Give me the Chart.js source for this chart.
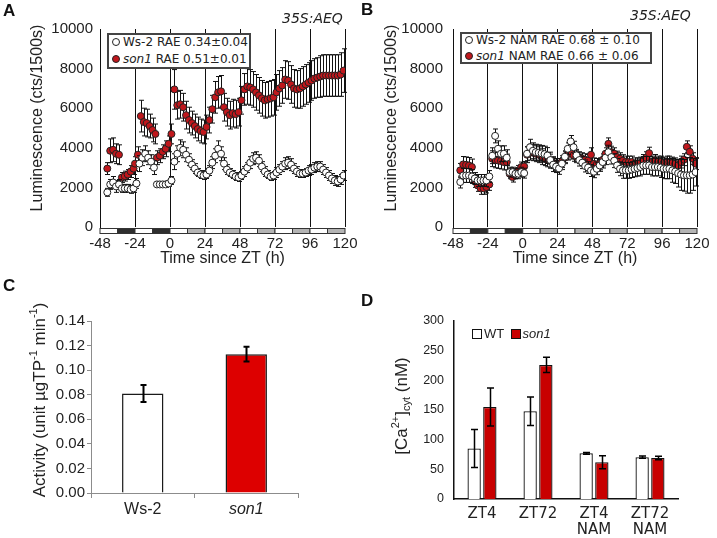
<!DOCTYPE html>
<html><head><meta charset="utf-8">
<script src="https://cdn.jsdelivr.net/npm/chart.js@4.4.0/dist/chart.umd.min.js"></script>
<style>
html,body{margin:0;padding:0;background:#fff;}
body{width:717px;height:538px;position:relative;overflow:hidden;font-family:"Liberation Sans",Arial,sans-serif;color:#222;}
canvas{position:absolute;}
.pl{position:absolute;font-weight:bold;font-size:17px;line-height:17px;color:#111;font-family:"Liberation Sans",Arial,sans-serif;}
.tag{position:absolute;font-style:italic;font-size:14px;line-height:16px;font-family:"DejaVu Sans",sans-serif;color:#222;white-space:nowrap;}
.leg{position:absolute;border:2px solid #444;background:#fff;font-family:"DejaVu Sans",sans-serif;font-size:12px;color:#222;box-sizing:border-box;}
.lr{position:absolute;left:3px;line-height:14px;white-space:nowrap;}
.dot{display:inline-block;width:6px;height:6px;border:1px solid #222;border-radius:50%;margin-right:3px;vertical-align:middle;position:relative;top:-1px;}
.dleg{position:absolute;font-family:"Liberation Sans",Arial,sans-serif;font-size:13px;line-height:14px;white-space:nowrap;color:#222;}
.sq{display:inline-block;width:8px;height:8px;border:1px solid #111;vertical-align:middle;position:relative;top:-1px;margin-right:2px;}
</style>
</head><body>
<canvas id="cA" width="358" height="268" style="left:0;top:0"></canvas>
<canvas id="cB" width="359" height="268" style="left:358px;top:0"></canvas>
<canvas id="cC" width="358" height="268" style="left:0;top:270px"></canvas>
<canvas id="cD" width="359" height="268" style="left:358px;top:270px"></canvas>

<div class="pl" style="left:3px;top:2px">A</div>
<div class="pl" style="left:361px;top:1px">B</div>
<div class="pl" style="left:3px;top:277px">C</div>
<div class="pl" style="left:361px;top:292px">D</div>
<div class="tag" style="left:282px;top:10px">35S:AEQ</div>
<div class="tag" style="left:630px;top:7px">35S:AEQ</div>

<div class="leg" style="left:107px;top:33px;width:144px;height:36px;">
  <div class="lr" style="top:0px;"><span class="dot" style="background:#fff"></span>Ws-2 RAE 0.34±0.04</div>
  <div class="lr" style="top:17px;"><span class="dot" style="background:#c0171c"></span><i>son1</i> RAE 0.51±0.01</div>
</div>
<div class="leg" style="left:460px;top:32px;width:192px;height:32px;">
  <div class="lr" style="top:-1px;"><span class="dot" style="background:#fff"></span>Ws-2 NAM RAE 0.68 ± 0.10</div>
  <div class="lr" style="top:15px;"><span class="dot" style="background:#c0171c"></span><i>son1</i> NAM RAE 0.66 ± 0.06</div>
</div>
<div class="dleg" style="left:472px;top:327px;"><span class="sq" style="background:#fff"></span>WT <span class="sq" style="background:#c80000;margin-left:3px"></span><i>son1</i></div>

<script>
// ---------- Panel A data (35S:AEQ, luminescence) ----------
const hoursA_ws = [-43,-41,-39,-37,-35,-33,-31,-29,-27,-25,-23,-21,-19,-17,-15,-13,-11,-9,-7,-5,-3,-1,1,3,5,7,9,11,13,15,17,19,21,23,25,27,29,31,33,35,37,39,41,43,45,47,49,51,53,55,57,59,61,63,65,67,69,71,73,75,77,79,81,83,85,87,89,91,93,95,97,99,101,103,105,107,109,111,113,115,117,119];
const lumA_ws = [1750,2150,2250,2050,2150,1950,1950,1950,1900,1950,
 2200,3200,3500,3700,3500,3300,3000,2150,2150,2150,
 2150,2200,2350,3300,3700,4000,3900,3650,3400,3150,
 2950,2750,2650,2600,2650,2850,3250,3600,3950,3700,
 3200,2900,2750,2650,2550,2500,2600,2800,3000,3250,
 3450,3500,3350,3050,2800,2650,2550,2600,2750,2900,
 3050,3200,3250,3150,2950,2800,2700,2700,2750,2850,
 2900,3000,3050,3050,2900,2750,2600,2450,2350,2300,
 2400,2600];
const errA_ws = [200,250,300,300,250,200,200,200,200,200,
 250,400,400,400,350,350,350,150,150,150,
 150,150,200,400,400,400,400,350,300,250,
 250,200,200,200,200,250,300,350,400,350,
 300,250,200,200,200,200,200,250,250,300,
 300,300,300,250,250,200,200,200,250,250,
 250,300,300,300,250,250,200,200,200,250,
 250,250,250,250,250,250,250,250,250,250,
 250,250];
const hoursA_son = [-43,-41,-39,-37,-35,-33,-31,-29,-27,-25,-24,-22,-20,-18,-16,-14,-12,-10,-9,-7,-5,-3,-1,1,3,5,7,9,11,13,15,17,19,21,23,25,27,29,31,33,35,37,39,41,43,45,47,49,51,53,55,57,59,61,63,65,67,69,71,73,75,77,79,81,83,85,87,89,91,93,95,97,99,101,103,105,107,109,111,113,115,117,119];
const lumA_son = [2950,3850,3900,3700,3650,2500,2570,2650,2800,2950,
 3200,3650,5600,5300,5250,5100,4900,4700,
 3500,3600,3800,3950,4200,
 4700,6950,6150,6200,6050,5650,5400,5250,5100,4950,
 4850,4800,5050,5400,5950,6550,6800,6850,6050,5800,
 5650,5750,5700,5800,6400,6950,7100,7050,6950,6800,
 6650,6500,6400,6450,6500,6550,6800,7000,7150,7450,
 7400,7200,7000,6950,7000,7100,7200,7300,7400,7500,
 7550,7600,7650,7650,7650,7650,7650,7650,7700,7900];
const errA_son = [300,600,600,500,500,250,250,250,300,300,
 350,400,800,700,700,600,600,500,
 350,350,350,400,400,
 500,1000,700,700,700,700,650,600,600,600,
 600,600,600,650,700,800,800,800,700,700,
 700,700,700,700,700,800,900,900,900,900,
 900,900,900,900,900,900,900,900,900,950,
 950,950,950,950,1000,1000,1000,1000,1000,1000,
 1000,1050,1050,1050,1050,1050,1050,1050,1100,1100];

// ---------- Panel B data (NAM) ----------
const hoursB = [-43,-41,-39,-37,-35,-33,-31,-29,-27,-25,-23,-21,-19,-17,-15,-13,-11,-9,-7,-5,-3,-1,1,3,5,7,9,11,13,15,17,19,21,23,25,27,29,31,33,35,37,39,41,43,45,47,49,51,53,55,57,59,61,63,65,67,69,71,73,75,77,79,81,83,85,87,89,91,93,95,97,99,101,103,105,107,109,111,113,115,117,119];
const lumB_ws = [2270,2600,2600,2600,2550,2450,2350,2350,2350,2350,
 2550,3600,4600,3950,3700,3700,3500,2770,2770,2690,
 2690,2770,2720,3700,4030,3850,3780,3750,3720,3680,
 3610,3380,3150,3050,2960,3200,3550,3950,4320,4030,
 3620,3380,3250,3080,3000,2850,2790,2940,3110,3280,
 3500,3780,3530,3350,3110,2940,2860,2860,2860,2900,
 2940,2980,3030,3110,3110,3110,3030,3030,3030,3000,
 2940,2940,2940,2860,2800,2720,2650,2610,2610,2610,
 2650,2770];
const errB_ws = [300,350,350,350,350,300,300,300,300,300,
 300,400,350,400,400,400,400,250,250,250,
 250,250,250,350,400,400,400,400,400,400,
 400,400,350,300,300,300,300,300,300,300,
 300,300,300,300,300,300,300,300,300,300,
 350,350,350,350,350,350,400,400,400,400,
 400,400,450,450,450,450,450,450,450,500,
 500,500,500,600,600,700,800,800,900,900,
 800,700];
const lumB_son = [2860,3160,3140,3110,3030,2300,2100,1950,1950,2020,
 2150,3450,3390,3360,3330,3280,3280,2690,2520,2690,
 2860,3030,3060,3650,3780,3750,3700,3650,3550,3450,
 3390,3330,3250,3160,3160,3300,3500,3680,3730,3620,
 3550,3500,3450,3400,3360,3650,3190,3160,3190,3390,
 3700,4200,3780,3700,3530,3450,3350,3280,3280,3280,
 3190,3190,3230,3360,3500,3730,3280,3360,3280,3280,
 3230,3280,3280,3230,3190,3110,3280,3400,4050,3800,
 3450,3200];
const errB_son = [350,400,400,400,400,300,300,300,300,300,
 300,400,400,400,400,400,400,250,250,250,
 250,250,250,400,400,400,400,400,400,350,
 350,350,300,300,300,300,300,300,300,300,
 300,300,300,300,300,350,300,300,300,300,
 300,300,300,300,300,300,300,300,300,300,
 300,300,300,300,300,300,300,300,300,300,
 300,300,300,300,300,300,300,300,300,300,
 300,300];

// light regime bar (12 h segments from -48): w = light, d = dark, g = subjective night
const photoperiod = ['w','d','w','d','w','g','w','g','w','g','w','g','w','g'];

// ---------- Panel C data ----------
const catC = ['Ws-2','son1'];
const actC = [0.081, 0.113];
const errC = [0.007, 0.006];

// ---------- Panel D data ----------
const catD = [['ZT4'],['ZT72'],['ZT4','NAM'],['ZT72','NAM']];
const caWT = [85, 148, 77, 70.5];
const caWTerr = [32, 24, 1.5, 2];
const caSon = [155, 226, 62, 69];
const caSonErr = [32, 13, 11, 3];

// ---------- plugins ----------
function drawErr(chart, idx) {
  const ds = chart.data.datasets[idx];
  const meta = chart.getDatasetMeta(idx);
  const ys = chart.scales.y, ctx = chart.ctx;
  ctx.save();
  ctx.strokeStyle = ds.errColor || '#000';
  ctx.lineWidth = ds.errWidth || 1;
  const cap = ds.errCap || 2.5;
  meta.data.forEach((el, i) => {
    const v = ds.data[i];
    const val = (typeof v === 'object') ? v.y : v;
    const e = ds.errors[i];
    const x = Math.round(el.x) + 0.5;
    const yt = ys.getPixelForValue(val + e), yb = ys.getPixelForValue(val - e);
    ctx.beginPath();
    ctx.moveTo(x, yt); ctx.lineTo(x, yb);
    ctx.moveTo(x - cap, yt); ctx.lineTo(x + cap, yt);
    ctx.moveTo(x - cap, yb); ctx.lineTo(x + cap, yb);
    ctx.stroke();
  });
  ctx.restore();
}
const errPlugin = {
  id: 'errbars',
  beforeDatasetDraw(chart, args) {
    const ds = chart.data.datasets[args.index];
    if (ds.errors && !ds.errOnTop) drawErr(chart, args.index);
  },
  afterDatasetDraw(chart, args) {
    const ds = chart.data.datasets[args.index];
    if (ds.errors && ds.errOnTop) drawErr(chart, args.index);
  }
};
const barPlugin = {
  id: 'lightbar',
  afterDraw(chart) {
    const xs = chart.scales.x, ctx = chart.ctx, a = chart.chartArea;
    const colors = {w: '#ffffff', d: '#2e2e2e', g: '#b4b4b4'};
    ctx.save();
    const y0 = Math.round(a.bottom) + 1.5, h = 5;
    photoperiod.forEach((p, i) => {
      const x0 = xs.getPixelForValue(-48 + 12 * i), x1 = xs.getPixelForValue(-36 + 12 * i);
      ctx.fillStyle = colors[p];
      ctx.fillRect(x0, y0, x1 - x0, h);
      ctx.strokeStyle = '#333'; ctx.lineWidth = 1;
      ctx.strokeRect(x0, y0, x1 - x0, h);
    });
    ctx.restore();
  }
};
const richTitle = {
  id: 'richTitle',
  afterDraw(chart, args, opts) {
    if (!opts || !opts.runs) return;
    const ctx = chart.ctx;
    ctx.save();
    ctx.translate(opts.x, opts.y);
    ctx.rotate(-Math.PI / 2);
    let total = 0;
    const runs = opts.runs.map(r => { ctx.font = r.font; const w = ctx.measureText(r.t).width; total += w; return Object.assign({w}, r); });
    let x = -total / 2;
    ctx.fillStyle = opts.color || '#222';
    ctx.textBaseline = 'middle';
    ctx.textAlign = 'left';
    runs.forEach(r => { ctx.font = r.font; ctx.fillText(r.t, x, r.dy || 0); x += r.w; });
    ctx.restore();
  }
};

const TXT = '#222';
function lumConfig(wsPts, wsErr, sonPts, sonErr, yW, yPad, padR, titleX) {
  return {
    type: 'scatter',
    data: { datasets: [
      { label: 'Ws-2', data: wsPts, errors: wsErr, backgroundColor: '#ffffff', borderColor: '#222',
        pointRadius: 3.5, pointBorderWidth: 1, errColor: '#111', errCap: 2.5 },
      { label: 'son1', data: sonPts, errors: sonErr, backgroundColor: '#c0171c', borderColor: '#222',
        pointRadius: 3.5, pointBorderWidth: 1, errColor: '#111', errCap: 2.5 }
    ]},
    options: {
      responsive: false, animation: false, devicePixelRatio: 1,
      layout: { padding: { top: 29, right: padR, left: 0, bottom: 0 } },
      plugins: { legend: { display: false }, tooltip: { enabled: false },
        richTitle: { x: titleX, y: 118, runs: [{ t: 'Luminescence (cts/1500s)', font: '16px "Liberation Sans"' }] } },
      scales: {
        x: { type: 'linear', min: -48, max: 120,
          ticks: { stepSize: 24, font: { family: 'Liberation Sans', size: 15 }, color: TXT, padding: 8, maxRotation: 0, autoSkip: false },
          grid: { color: '#111', lineWidth: 1, drawTicks: false },
          border: { display: false },
          title: { display: true, text: 'Time since ZT (h)', font: { family: 'Liberation Sans', size: 16 }, color: TXT, padding: 0 },
          afterFit(s) { s.height = 41; s.paddingLeft = 0; s.paddingRight = 0; } },
        y: { min: 0, max: 10000,
          ticks: { stepSize: 2000, font: { family: 'Liberation Sans', size: 15 }, color: TXT, padding: yPad,
            callback: (v) => String(v) },
          grid: { display: false, drawTicks: false },
          border: { display: true, color: '#111', width: 1 },
          afterFit(s) { s.width = yW; s.paddingTop = 0; s.paddingBottom = 0; } }
      }
    },
    plugins: [errPlugin, barPlugin, richTitle]
  };
}
const pts = (xs, ys) => xs.map((x, i) => ({ x: x, y: ys[i] }));

new Chart(document.getElementById('cA'), lumConfig(pts(hoursA_ws, lumA_ws), errA_ws, pts(hoursA_son, lumA_son), errA_son, 100, 7, 13, 38));
new Chart(document.getElementById('cB'), lumConfig(pts(hoursB, lumB_ws), errB_ws, pts(hoursB, lumB_son), errB_son, 95, 10, 20, 34));

// ---------- Panel C ----------
new Chart(document.getElementById('cC'), {
  type: 'bar',
  data: { labels: catC, datasets: [{ data: actC, errors: errC, errOnTop: true, errWidth: 2, errCap: 3,
    backgroundColor: ['#ffffff', '#dd0000'], borderColor: '#1a1a1a', borderWidth: 1.5,
    barPercentage: 0.5, categoryPercentage: 0.8 }] },
  options: {
    responsive: false, animation: false, devicePixelRatio: 1,
    layout: { padding: { top: 51, right: 60, left: 0, bottom: 0 } },
    plugins: { legend: { display: false }, tooltip: { enabled: false },
      richTitle: { x: 40, y: 130, runs: [
        { t: 'Activity (unit µgTP', font: '17px "Liberation Sans"' },
        { t: '-1', font: '11px "Liberation Sans"', dy: -6 },
        { t: ' min', font: '17px "Liberation Sans"' },
        { t: '-1', font: '11px "Liberation Sans"', dy: -6 },
        { t: ')', font: '17px "Liberation Sans"' }] } },
    scales: {
      x: { grid: { display: true, drawOnChartArea: false, drawTicks: true, tickLength: 5, color: '#8c8c8c', offset: true },
        border: { color: '#8c8c8c', width: 1 },
        ticks: { color: TXT, padding: 2,
          font: (c) => ({ family: 'Liberation Sans', size: 16, style: c.index === 1 ? 'italic' : 'normal' }) },
        afterFit(s) { s.height = 45; } },
      y: { min: 0, max: 0.14,
        ticks: { stepSize: 0.02, color: TXT, padding: 2, font: { family: 'Liberation Sans', size: 15 },
          callback: (v) => Number(v).toFixed(2) },
        grid: { display: true, drawOnChartArea: false, drawTicks: true, tickLength: 4, color: '#8c8c8c' },
        border: { color: '#8c8c8c', width: 1 },
        afterFit(s) { s.width = 91; } }
    }
  },
  plugins: [errPlugin, richTitle]
});

// ---------- Panel D ----------
new Chart(document.getElementById('cD'), {
  type: 'bar',
  data: { labels: catD, datasets: [
    { label: 'WT', data: caWT, errors: caWTerr, errOnTop: true, errWidth: 1.5, errCap: 3.5,
      backgroundColor: '#ffffff', borderColor: '#111', borderWidth: 1.3, barPercentage: 0.85, categoryPercentage: 0.56 },
    { label: 'son1', data: caSon, errors: caSonErr, errOnTop: true, errWidth: 1.5, errCap: 3.5,
      backgroundColor: '#c80000', borderColor: '#111', borderWidth: 1.3, barPercentage: 0.85, categoryPercentage: 0.56 }
  ]},
  options: {
    responsive: false, animation: false, devicePixelRatio: 1,
    layout: { padding: { top: 51, right: 39, left: 0, bottom: 0 } },
    plugins: { legend: { display: false }, tooltip: { enabled: false },
      richTitle: { x: 44, y: 136, runs: [
        { t: '[Ca', font: '17px "Liberation Sans"' },
        { t: '2+', font: '11px "Liberation Sans"', dy: -6 },
        { t: ']', font: '17px "Liberation Sans"' },
        { t: 'cyt', font: '11px "Liberation Sans"', dy: 5 },
        { t: ' (nM)', font: '17px "Liberation Sans"' }] } },
    scales: {
      x: { grid: { display: false, drawTicks: false },
        border: { color: '#111', width: 1.5 },
        ticks: { color: TXT, padding: 7, font: { family: 'DejaVu Sans', size: 15, lineHeight: 1.05 } },
        afterFit(s) { s.height = 39; } },
      y: { min: 0, max: 300,
        ticks: { stepSize: 50, color: TXT, padding: 10, font: { family: 'Liberation Sans', size: 12.5 } },
        grid: { display: false, drawTicks: false },
        border: { color: '#111', width: 1.5 },
        afterFit(s) { s.width = 96; } }
    }
  },
  plugins: [errPlugin, richTitle]
});
</script>
</body></html>
